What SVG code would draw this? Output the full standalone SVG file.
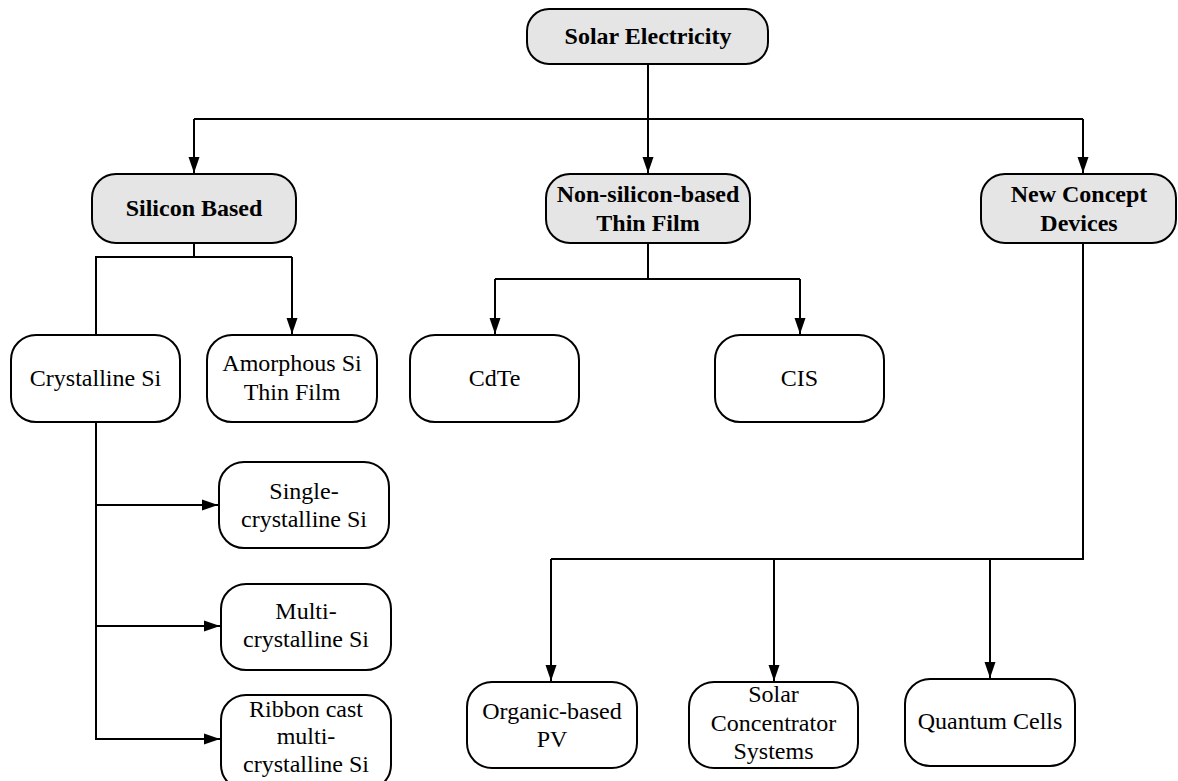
<svg xmlns="http://www.w3.org/2000/svg" width="1178" height="781" viewBox="0 0 1178 781">
  <style>
    .box { fill: #ffffff; stroke: #000; stroke-width: 2; }
    .head { fill: #e5e5e5; stroke: #000; stroke-width: 2; }
    .lbl { font-family: "Liberation Serif", "Times New Roman", serif; font-size: 24px; fill: #000; text-anchor: middle; }
    .bold { font-weight: bold; }
    .wire { fill: none; stroke: #000; stroke-width: 2; }
    .arr { marker-end: url(#tip); }
  </style>
  <defs>
    <marker id="tip" markerUnits="userSpaceOnUse" markerWidth="16" markerHeight="12" refX="16" refY="6" orient="auto">
      <path d="M0,0.5 L16,6 L0,11.5 Z" fill="#000"/>
    </marker>
  </defs>
  <rect width="1178" height="781" fill="#ffffff"/>

  <!-- connectors -->
  <g id="connectors">
    <path class="wire arr" d="M648,64 V173"/>
    <path class="wire" d="M194,119 H1083"/>
    <path class="wire arr" d="M194,119 V173"/>
    <path class="wire arr" d="M1083,119 V173"/>
    <path class="wire" d="M194,243 V257 M96,335 V257 H292"/>
    <path class="wire arr" d="M292,257 V334"/>
    <path class="wire arr" d="M96,422 V739 H220"/>
    <path class="wire arr" d="M96,505 H218"/>
    <path class="wire arr" d="M96,626 H220"/>
    <path class="wire" d="M648,243 V279 M495,279 H800"/>
    <path class="wire arr" d="M495,279 V334"/>
    <path class="wire arr" d="M800,279 V334"/>
    <path class="wire" d="M1083,243 V559 H551"/>
    <path class="wire arr" d="M551,559 V681"/>
    <path class="wire arr" d="M774,559 V681"/>
    <path class="wire arr" d="M990,559 V678"/>
  </g>

  <!-- top level -->
  <g id="solar-electricity">
    <rect class="head" x="527" y="9" width="241" height="55" rx="22"/>
    <text class="lbl bold" x="648" y="44">Solar Electricity</text>
  </g>

  <!-- categories -->
  <g id="silicon-based">
    <rect class="head" x="92" y="174" width="204" height="69" rx="24"/>
    <text class="lbl bold" x="194" y="216">Silicon Based</text>
  </g>
  <g id="non-silicon-thin-film">
    <rect class="head" x="546" y="174" width="204" height="69" rx="24"/>
    <text class="lbl bold" x="648" y="202">Non-silicon-based</text>
    <text class="lbl bold" x="648" y="231">Thin Film</text>
  </g>
  <g id="new-concept-devices">
    <rect class="head" x="981" y="174" width="195" height="69" rx="24"/>
    <text class="lbl bold" x="1079" y="202">New Concept</text>
    <text class="lbl bold" x="1079" y="231">Devices</text>
  </g>

  <!-- silicon branch -->
  <g id="crystalline-si">
    <rect class="box" x="11" y="335" width="169" height="87" rx="25"/>
    <text class="lbl" x="95.5" y="386">Crystalline Si</text>
  </g>
  <g id="amorphous-si">
    <rect class="box" x="207" y="335" width="170" height="87" rx="25"/>
    <text class="lbl" x="292" y="371">Amorphous Si</text>
    <text class="lbl" x="292" y="400">Thin Film</text>
  </g>
  <g id="single-crystalline-si">
    <rect class="box" x="219" y="462" width="170" height="86" rx="25"/>
    <text class="lbl" x="304" y="499">Single-</text>
    <text class="lbl" x="304" y="527">crystalline Si</text>
  </g>
  <g id="multi-crystalline-si">
    <rect class="box" x="221" y="584" width="170" height="86" rx="25"/>
    <text class="lbl" x="306" y="619">Multi-</text>
    <text class="lbl" x="306" y="647">crystalline Si</text>
  </g>
  <g id="ribbon-cast-si">
    <rect class="box" x="221" y="695" width="170" height="95" rx="25"/>
    <text class="lbl" x="306" y="717">Ribbon cast</text>
    <text class="lbl" x="306" y="744">multi-</text>
    <text class="lbl" x="306" y="772">crystalline Si</text>
  </g>

  <!-- thin film branch -->
  <g id="cdte">
    <rect class="box" x="410" y="335" width="169" height="87" rx="25"/>
    <text class="lbl" x="494.5" y="386">CdTe</text>
  </g>
  <g id="cis">
    <rect class="box" x="715" y="335" width="169" height="87" rx="25"/>
    <text class="lbl" x="799.5" y="386">CIS</text>
  </g>

  <!-- new concept branch -->
  <g id="organic-pv">
    <rect class="box" x="467" y="682" width="170" height="86" rx="25"/>
    <text class="lbl" x="552" y="719">Organic-based</text>
    <text class="lbl" x="552" y="747">PV</text>
  </g>
  <g id="solar-concentrator">
    <rect class="box" x="689" y="682" width="169" height="86" rx="25"/>
    <text class="lbl" x="773.5" y="702">Solar</text>
    <text class="lbl" x="773.5" y="731">Concentrator</text>
    <text class="lbl" x="773.5" y="759">Systems</text>
  </g>
  <g id="quantum-cells">
    <rect class="box" x="905" y="679" width="170" height="87" rx="25"/>
    <text class="lbl" x="990" y="729">Quantum Cells</text>
  </g>
</svg>
